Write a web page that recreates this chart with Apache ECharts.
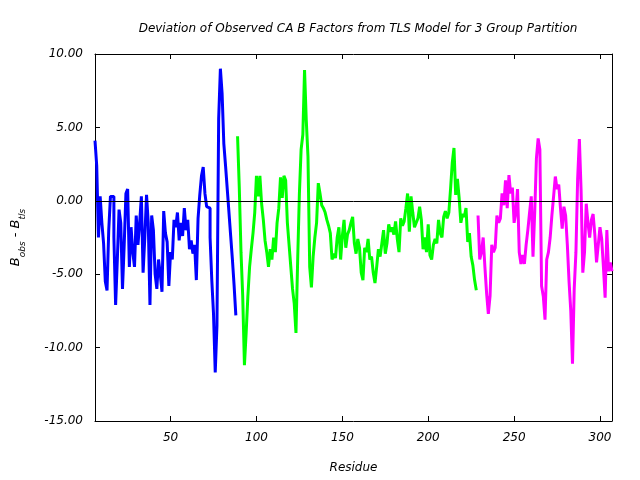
<!DOCTYPE html>
<html>
<head>
<meta charset="utf-8">
<script src="https://cdn.jsdelivr.net/npm/echarts@6/dist/echarts.min.js"></script>
<style>html,body{margin:0;padding:0;background:#fff}#c{width:640px;height:480px}</style>
</head>
<body>
<div id="c"></div>
<script>
const titleText = "Deviation of Observed CA B Factors from TLS Model for 3 Group Partition";
const xTicks = [50, 100, 150, 200, 250, 300];
const yTicks = [-15, -10, -5, 0, 5, 10];

// Group 1 (blue): residues 6..88
const group1Start = 6;
const group1Values = [
  4.1, 2.4, -2.5, 0.3, -1.5, -2.9, -5.5, -6.1, -2.0, 0.3,
  0.3, -2.5, -7.1, -4.0, -0.6, -1.5, -6.0, -3.0, 0.5, 0.8,
  -4.5, -1.8, -3.5, -4.5, -1.0, -3.0, -1.5, 0.3, -4.9, -2.5,
  0.4, -1.5, -7.1, -1.0, -2.0, -5.0, -6.0, -4.0, -5.0, -6.2,
  -0.7, -2.2, -2.8, -5.8, -3.5, -4.0, -1.3, -1.8, -0.8, -2.7,
  -1.5, -2.4, -0.5, -2.0, -1.3, -3.3, -2.7, -3.6, -3.0, -5.4,
  -1.2, 0.4, 1.7, 2.3, 0.5, -0.4, -0.5, -2.5, -5.4, -7.7,
  -11.7, -8.5, 5.6, 9.0, 7.3, 3.9, 2.4, 0.8, -0.8, -2.4,
  -4.0, -5.8, -7.8
];
// Group 2 (green): residues 89..228
const group2Start = 89;
const group2Values = [
  4.4, 0.9, -3.5, -6.5, -11.2, -9.0, -6.5, -4.5, -3.3, -2.2,
  -0.8, 1.7, 0.3, 1.7, -0.2, -1.3, -2.7, -3.5, -4.5, -3.3,
  -4.0, -2.5, -3.5, -1.5, -0.5, 1.6, 0.2, 1.7, 1.4, -1.5,
  -3.0, -4.5, -6.0, -7.0, -9.0, -4.0, 0.5, 3.5, 4.5, 8.9,
  5.5, 3.0, -4.5, -5.9, -3.8, -2.5, -1.5, 1.2, 0.5, -0.3,
  -0.5, -0.8, -1.3, -1.7, -2.2, -4.0, -3.6, -3.9, -2.5, -1.8,
  -4.0, -2.4, -1.3, -3.2, -2.3, -2.0, -1.5, -1.1, -2.9, -3.6,
  -2.6, -3.2, -4.9, -5.4, -3.2, -3.5, -2.6, -4.0, -3.8, -4.9,
  -5.6, -4.5, -3.3, -3.8, -2.9, -2.0, -3.6, -2.9, -1.6, -2.1,
  -1.8, -2.3, -1.4, -2.6, -3.5, -1.2, -1.7, -1.4, -0.5, 0.5,
  -2.1, 0.3, -0.8, -1.8, -1.5, -1.2, -0.4, -1.3, -3.3, -2.5,
  -3.5, -1.6, -3.7, -4.0, -3.0, -2.6, -2.9, -1.3, -2.2, -2.5,
  -1.1, -0.7, -1.2, -0.8, 0.8, 2.6, 3.6, 0.4, 1.5, 0.2,
  -1.5, -0.9, -1.1, -0.5, -2.8, -2.2, -3.8, -4.4, -5.4, -6.1
];
// Group 3 (magenta): residues 229..307
const group3Start = 229;
const group3Values = [
  -1.0, -4.0, -3.5, -2.5, -4.5, -6.3, -7.7, -6.5, -3.0, -3.5,
  -3.2, -1.0, -1.5, -1.2, 0.5, -0.3, 1.4, -0.5, 1.75, 0.5,
  0.9, -1.5, -0.8, 0.8, -3.5, -4.3, -3.7, -4.3, -3.0, -2.0,
  -0.8, 0.3, -3.8, -0.8, 2.9, 4.25, 3.5, -5.8, -6.5, -8.1,
  -4.0, -3.5, -2.5, -1.0, 0.3, 1.65, 0.8, 1.1, -0.5, -1.9,
  -0.4, -1.0, -3.0, -5.5, -7.5, -11.1, -6.0, -3.5, 1.5, 4.2,
  0.7, -4.9, -3.5, -0.2, -1.5, -2.5, -1.3, -0.9, -2.3, -4.2,
  -3.0, -1.8, -2.6, -4.5, -6.6, -2.0, -4.8, -4.2, -4.8
];
const xMin = 6, xMax = 307;

function pairs(start, vals) { return vals.map((v, i) => [start + i, v]); }

const font = 'DejaVu Sans';
const chart = echarts.init(document.getElementById('c'), null, {renderer: 'canvas'});
const lineSeries = (name, start, vals, color) => ({
  name, type: 'line', step: 'end', data: pairs(start, vals), showSymbol: false,
  lineStyle: {color, width: 3}, itemStyle: {color}, animation: false, z: 3
});
const axisCommonX = {
  type: 'value', min: xMin, max: xMax,
  axisLine: {show: true, onZero: false, lineStyle: {color: '#000', width: 1}},
  splitLine: {show: false}
};
const axisCommonY = {
  type: 'value', min: -15, max: 10, interval: 5,
  axisLine: {show: true, onZero: false, lineStyle: {color: '#000', width: 1}},
  splitLine: {show: false}
};
chart.setOption({
  backgroundColor: '#fff',
  animation: false,
  title: {
    text: titleText, left: 353, top: 18, textAlign: 'center',
    textStyle: {fontFamily: font, fontStyle: 'italic', fontWeight: 'normal', fontSize: 12, color: '#000'}
  },
  grid: {left: 95, right: 28, top: 54, bottom: 59, containLabel: false},
  xAxis: [
    Object.assign({}, axisCommonX, {
      position: 'bottom',
      name: 'Residue', nameLocation: 'middle', nameGap: 41,
      nameTextStyle: {fontFamily: font, fontStyle: 'italic', fontSize: 12, color: '#000'},
      axisTick: {show: true, inside: true, length: 5, customValues: xTicks, lineStyle: {color: '#000'}},
      axisLabel: {show: true, customValues: xTicks, margin: 11, fontFamily: font, fontStyle: 'italic', fontSize: 12, color: '#000'}
    }),
    Object.assign({}, axisCommonX, {
      position: 'top',
      axisTick: {show: true, inside: true, length: 5, customValues: xTicks, lineStyle: {color: '#000'}},
      axisLabel: {show: false}
    })
  ],
  yAxis: [
    Object.assign({}, axisCommonY, {
      position: 'left',
      name: '{b|B}{s|obs}{b| - B}{s|tls}', nameLocation: 'middle', nameGap: 68, nameRotate: 90,
      nameTextStyle: {
        color: '#000',
        rich: {
          b: {fontFamily: font, fontStyle: 'italic', fontSize: 13, color: '#000', lineHeight: 22, verticalAlign: 'middle'},
          s: {fontFamily: font, fontStyle: 'italic', fontSize: 9, color: '#000', lineHeight: 22, verticalAlign: 'bottom', padding: [6, 0, 0, 0]}
        }
      },
      axisTick: {show: true, inside: true, length: 5, lineStyle: {color: '#000'}},
      axisLabel: {show: true, margin: 12, fontFamily: font, fontStyle: 'italic', fontSize: 12, color: '#000',
        formatter: v => v.toFixed(2)}
    }),
    Object.assign({}, axisCommonY, {
      position: 'right',
      axisTick: {show: true, inside: true, length: 5, lineStyle: {color: '#000'}},
      axisLabel: {show: false}
    })
  ],
  series: [
    Object.assign(lineSeries('group1', group1Start, group1Values, '#0000ff'), {
      markLine: {
        silent: true, symbol: 'none', animation: false,
        label: {show: false},
        lineStyle: {color: '#000', width: 1, type: 'solid'},
        data: [{yAxis: 0}]
      }
    }),
    lineSeries('group2', group2Start, group2Values, '#00ff00'),
    lineSeries('group3', group3Start, group3Values, '#ff00ff')
  ]
});
</script>
</body>
</html>
